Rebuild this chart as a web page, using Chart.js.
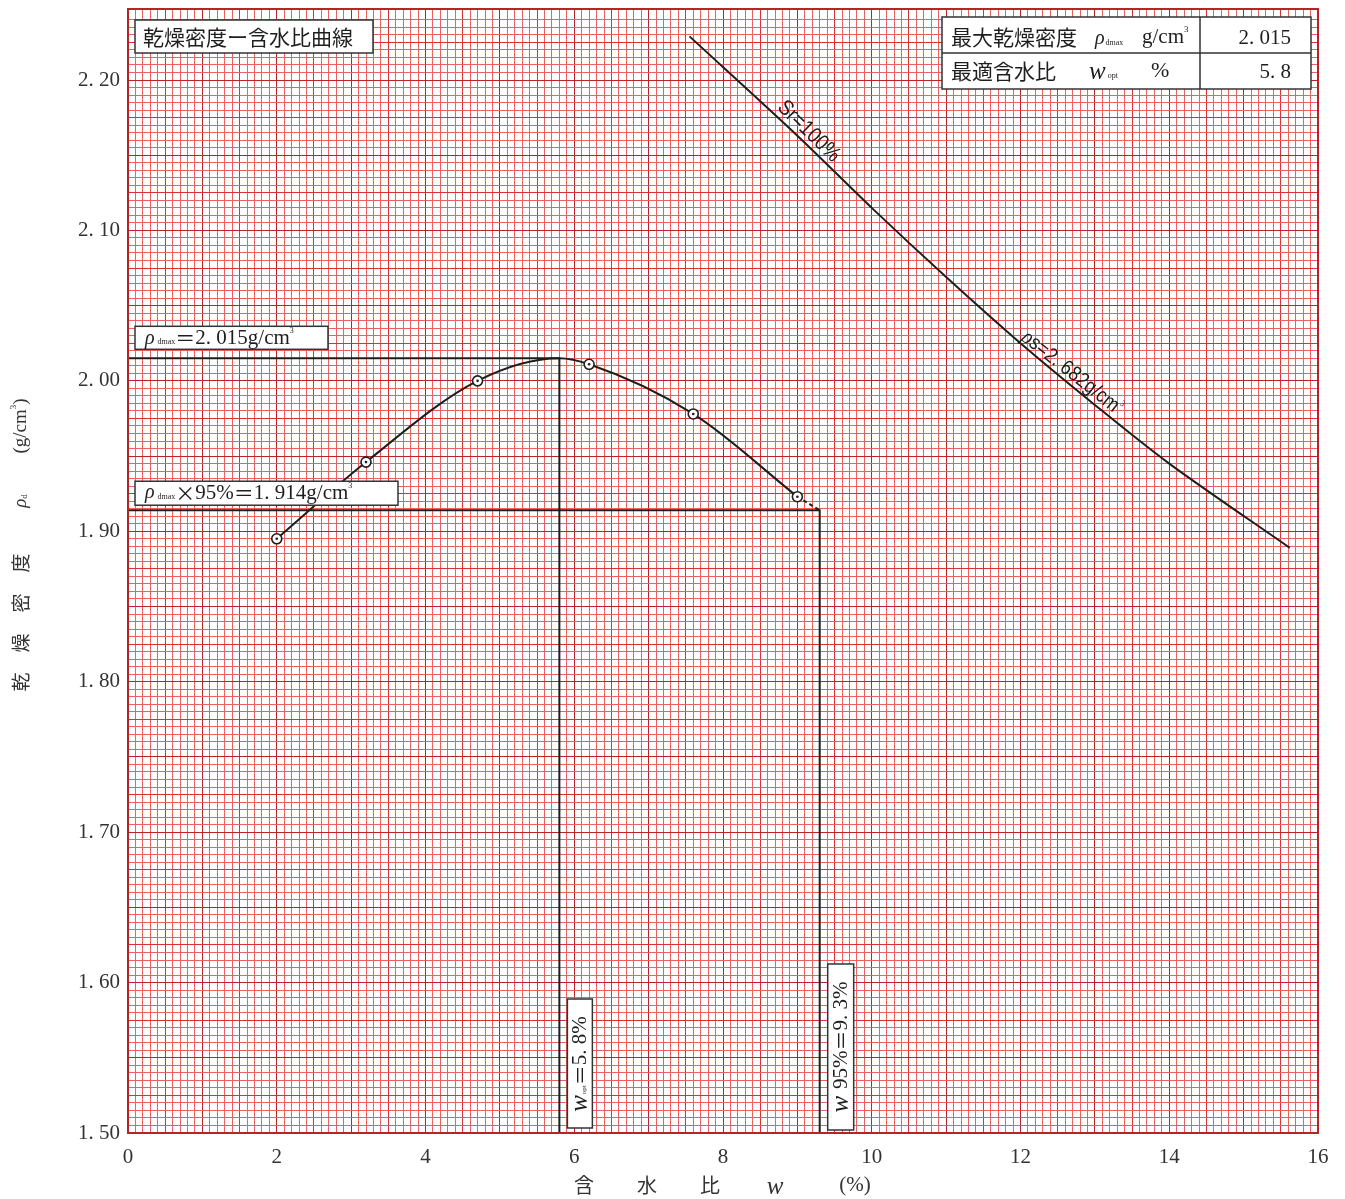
<!DOCTYPE html>
<html>
<head>
<meta charset="utf-8">
<title>乾燥密度－含水比曲線</title>
<script src="https://cdn.jsdelivr.net/npm/chart.js@4.4.1/dist/chart.umd.min.js"></script>
<style>
  html, body { margin: 0; padding: 0; background: #fff; }
</style>
</head>
<body>
<canvas id="compaction" width="1345" height="1199"></canvas>
<script>
// measured points (w %, rho_d g/cm3)
const moisture   = [2.0, 3.2, 4.7, 6.2, 7.6, 9.0];
const dryDensity = [1.895, 1.946, 2.000, 2.011, 1.978, 1.923];

// hand drawn curve (peak included)
const curveW   = [2.0, 3.2, 4.7, 5.8, 6.2, 7.6, 9.0];
const curveRho = [1.895, 1.946, 2.000, 2.015, 2.011, 1.978, 1.923];

// dashed tail of the curve
const tailW   = [9.0, 9.3];
const tailRho = [1.923, 1.914];

// Sr = 100% line
const satW   = [7.55, 9, 10, 11, 12, 13, 14, 15.62];
const satRho = [2.229, 2.163, 2.115, 2.069, 2.025, 1.984, 1.945, 1.889];

// results
const rhoMax = 2.015;
const wOpt   = 5.8;
const rho95  = 1.914;
const w95    = 9.3;

const xMin = 0, xMax = 16;
const yMin = 1.50, yMax = 2.2472;

const SERIF  = '"Liberation Serif", "DejaVu Serif", serif';
const JP     = '"Noto Sans CJK JP", "Noto Sans", sans-serif';
const NARROW = '"Liberation Sans", "DejaVu Sans", sans-serif';
const INK = '#1e1e1e';

function pts(xs, ys) { return xs.map((x, i) => ({x: x, y: ys[i]})); }
function fnt(size, fam, style) { return (style ? style + ' ' : '') + size + 'px ' + fam; }
function sub(t, s) { return {text: t, font: fnt(s || 9, SERIF), dy: 4}; }
function sup(t, s) { return {text: t, font: fnt(s || 9, SERIF), dy: -7}; }
function jp(t, s) { return {text: t, font: fnt(s || 20, JP)}; }
function sf(t, s) { return {text: t, font: fnt(s || 20, SERIF)}; }

// graph paper colour, idx counts small squares
function paperColor(idx) {
    if (idx % 10 === 0) return '#b92329';
    if (idx % 5 === 0) return '#dc3035';
    return '#ee5f5f';
}

function rich(ctx, x, y, parts, align) {
    ctx.textBaseline = 'middle';
    ctx.textAlign = 'left';
    var total = 0;
    parts.forEach(function (p) { ctx.font = p.font; total += ctx.measureText(p.text).width + (p.gap || 0); });
    if (align === 'center') x -= total / 2;
    else if (align === 'right') x -= total;
    parts.forEach(function (p) {
        ctx.font = p.font;
        ctx.fillText(p.text, x, y + (p.dy || 0));
        x += ctx.measureText(p.text).width + (p.gap || 0);
    });
}

function box(ctx, x, y, w, h) {
    ctx.fillStyle = '#fff';
    ctx.fillRect(x, y, w, h);
    ctx.strokeStyle = '#333';
    ctx.lineWidth = 1.5;
    ctx.strokeRect(x, y, w, h);
    ctx.fillStyle = INK;
}

const paperPlugin = {
    id: 'paper',
    beforeDraw: function (chart) {
        var ctx = chart.ctx;
        ctx.save();
        ctx.fillStyle = '#fff';
        ctx.fillRect(0, 0, chart.width, chart.height);
        ctx.restore();
    },
    afterDraw: function (chart) {
        var ctx = chart.ctx, ca = chart.chartArea;
        var xs = chart.scales.x, ys = chart.scales.y;
        ctx.save();

        // frame of the sheet
        ctx.strokeStyle = '#b8232a';
        ctx.lineWidth = 2;
        ctx.strokeRect(ca.left, ca.top, ca.right - ca.left, ca.bottom - ca.top);

        // title
        box(ctx, ca.left + 7, ca.top + 11, 238, 33);
        rich(ctx, ca.left + 15, ca.top + 28, [jp('乾燥密度ー含水比曲線', 21)]);

        // result table
        box(ctx, 942, 17, 369, 72);
        ctx.beginPath();
        ctx.moveTo(942, 53); ctx.lineTo(1311, 53);
        ctx.moveTo(1200, 17); ctx.lineTo(1200, 89);
        ctx.stroke();
        rich(ctx, 951, 37, [jp('最大乾燥密度', 21)]);
        rich(ctx, 1095, 39, [{text: 'ρ', font: fnt(20, SERIF, 'italic'), gap: 1}, sub('dmax', 8)]);
        rich(ctx, 1142, 37, [sf('g/cm', 21), sup('3')]);
        rich(ctx, 1291, 38, [sf(rhoMax.toFixed(3).replace('.', '. '), 21)], 'right');
        rich(ctx, 951, 71, [jp('最適含水比', 21)]);
        rich(ctx, 1089, 72, [{text: 'w', font: fnt(25, SERIF, 'italic'), gap: 2}, sub('opt', 8)]);
        rich(ctx, 1151, 71, [sf('%', 22)]);
        rich(ctx, 1291, 72, [sf(wOpt.toFixed(1).replace('.', '. '), 21)], 'right');

        // rho_dmax label
        var yMaxPx = ys.getPixelForValue(rhoMax);
        box(ctx, ca.left + 7, yMaxPx - 32, 193, 23);
        rich(ctx, ca.left + 17, yMaxPx - 20, [
            {text: 'ρ', font: fnt(20, SERIF, 'italic'), gap: 3}, sub('dmax', 8),
            jp('＝', 20), sf('2. 015g/cm', 21), sup('3', 8)]);

        // 95% label
        var y95Px = ys.getPixelForValue(rho95);
        box(ctx, ca.left + 7, y95Px - 29, 263, 24);
        rich(ctx, ca.left + 17, y95Px - 17, [
            {text: 'ρ', font: fnt(20, SERIF, 'italic'), gap: 3}, sub('dmax', 8),
            jp('×', 20), sf('95%', 21), jp('＝', 20), sf('1. 914g/cm', 21), sup('3', 8)]);

        // vertical labels
        var xo = xs.getPixelForValue(wOpt);
        box(ctx, xo + 8, ca.bottom - 134, 25, 129);
        ctx.save();
        ctx.translate(xo + 21, ca.bottom - 69);
        ctx.rotate(-Math.PI / 2);
        rich(ctx, 0, 0, [{text: 'w', font: fnt(25, SERIF, 'italic'), gap: 1}, sub('opt', 7),
            jp('＝', 20), sf('5. 8%', 21)], 'center');
        ctx.restore();

        var x9 = xs.getPixelForValue(w95);
        box(ctx, x9 + 8, ca.bottom - 169, 26, 166);
        ctx.save();
        ctx.translate(x9 + 22, ca.bottom - 86);
        ctx.rotate(-Math.PI / 2);
        rich(ctx, 0, 0, [{text: 'w', font: fnt(25, SERIF, 'italic'), gap: 7},
            sf('95%', 21), jp('＝', 20), sf('9. 3%', 21)], 'center');
        ctx.restore();

        // labels along the saturation line
        function lineLabel(i0, i1, t, off, parts) {
            var ax = xs.getPixelForValue(satW[i0]), ay = ys.getPixelForValue(satRho[i0]);
            var bx = xs.getPixelForValue(satW[i1]), by = ys.getPixelForValue(satRho[i1]);
            var ang = Math.atan2(by - ay, bx - ax);
            var cx = ax + (bx - ax) * t, cy = ay + (by - ay) * t;
            ctx.save();
            ctx.translate(cx + Math.sin(ang) * off, cy - Math.cos(ang) * off);
            ctx.rotate(ang);
            ctx.scale(0.86, 1);
            rich(ctx, 0, 0, parts, 'center');
            ctx.restore();
        }
        lineLabel(1, 2, 0.05, 11, [{text: 'Sr=100%', font: fnt(22, NARROW)}]);
        lineLabel(5, 6, -0.4, 11, [{text: 'ρ', font: fnt(22, SERIF, 'italic')},
            {text: 's=2. 682g/cm', font: fnt(21, NARROW)}, sup('3', 9)]);

        // axis titles
        ctx.fillStyle = '#333';
        var by = 1185;
        rich(ctx, 584, by, [jp('含', 20)], 'center');
        rich(ctx, 647, by, [jp('水', 20)], 'center');
        rich(ctx, 710, by, [jp('比', 20)], 'center');
        rich(ctx, 775, by + 2, [{text: 'w', font: fnt(25, SERIF, 'italic')}], 'center');
        rich(ctx, 855, by, [sf('(%)', 21)], 'center');

        ctx.save();
        ctx.translate(21, 0);
        ctx.rotate(-Math.PI / 2);
        [['乾', 682], ['燥', 643], ['密', 603], ['度', 563]].forEach(function (c) {
            rich(ctx, -c[1], 0, [jp(c[0], 19)], 'center');
        });
        rich(ctx, -501, 0, [{text: 'ρ', font: fnt(19, SERIF, 'italic')}, sub('d', 9)], 'center');
        rich(ctx, -426, 0, [sf('(g/cm', 19), sup('3', 9), sf(')', 19)], 'center');
        ctx.restore();

        ctx.restore();
    }
};

function xIdx(ctx) { return ctx.tick ? Math.round((ctx.tick.value - xMin) / 0.1) : 0; }
function yIdx(ctx) { return ctx.tick ? Math.round((ctx.tick.value - yMin) / 0.005) : 0; }
function yOnPaper(ctx) {
    if (!ctx.tick) return false;
    var r = (ctx.tick.value - yMin) / 0.005;
    return Math.abs(r - Math.round(r)) < 1e-6;
}

const chart = new Chart(document.getElementById('compaction'), {
    type: 'scatter',
    data: {
        datasets: [
            {   // centre dots of the markers
                data: pts(moisture, dryDensity),
                pointRadius: 1.3, pointBackgroundColor: INK, pointBorderWidth: 0,
                showLine: false
            },
            {
                data: pts(moisture, dryDensity),
                pointRadius: 5, pointBackgroundColor: '#fff', pointBorderColor: INK, pointBorderWidth: 1.6,
                showLine: false
            },
            {
                data: pts(curveW, curveRho),
                showLine: true, cubicInterpolationMode: 'monotone',
                borderColor: INK, borderWidth: 2, pointRadius: 0
            },
            {
                data: pts(tailW, tailRho),
                showLine: true, borderDash: [4, 3],
                borderColor: INK, borderWidth: 2, pointRadius: 0
            },
            {
                data: [{x: xMin, y: rhoMax}, {x: wOpt, y: rhoMax}, {x: wOpt, y: yMin}],
                showLine: true, borderColor: INK, borderWidth: 2, pointRadius: 0
            },
            {
                data: [{x: xMin, y: rho95}, {x: w95, y: rho95}, {x: w95, y: yMin}],
                showLine: true, borderColor: INK, borderWidth: 2, pointRadius: 0
            },
            {
                data: pts(satW, satRho),
                showLine: true, tension: 0.3,
                borderColor: INK, borderWidth: 2, pointRadius: 0
            }
        ]
    },
    options: {
        responsive: false,
        animation: false,
        layout: { padding: { top: 9, right: 27, left: 0, bottom: 0 } },
        plugins: { legend: { display: false }, tooltip: { enabled: false } },
        scales: {
            x: {
                type: 'linear', min: xMin, max: xMax,
                border: { display: false },
                grid: {
                    drawTicks: false, lineWidth: 1,
                    color: function (c) { return paperColor(xIdx(c)); }
                },
                ticks: {
                    stepSize: 0.1, autoSkip: false, maxRotation: 0, minRotation: 0,
                    padding: 12, color: '#333',
                    font: { family: SERIF, size: 21 },
                    callback: function (v) {
                        var i = Math.round(v * 10);
                        return i % 20 === 0 ? String(i / 10) : '';
                    }
                },
                afterFit: function (s) { s.height = 66; s.paddingLeft = 0; s.paddingRight = 0; }
            },
            y: {
                type: 'linear', min: yMin, max: yMax,
                border: { display: false },
                grid: {
                    drawTicks: false, lineWidth: 1,
                    color: function (c) { return yOnPaper(c) ? paperColor(yIdx(c)) : 'rgba(0,0,0,0)'; }
                },
                ticks: {
                    stepSize: 0.005, autoSkip: false,
                    padding: 8, color: '#333',
                    font: { family: SERIF, size: 21 },
                    callback: function (v) {
                        var i = Math.round((v - yMin) / 0.005);
                        if (i % 20 !== 0 || v > 2.21) return '';
                        return v.toFixed(2).replace('.', '. ');
                    }
                },
                afterFit: function (s) { s.width = 128; s.paddingTop = 0; s.paddingBottom = 0; }
            }
        }
    },
    plugins: [paperPlugin]
});
</script>
</body>
</html>
